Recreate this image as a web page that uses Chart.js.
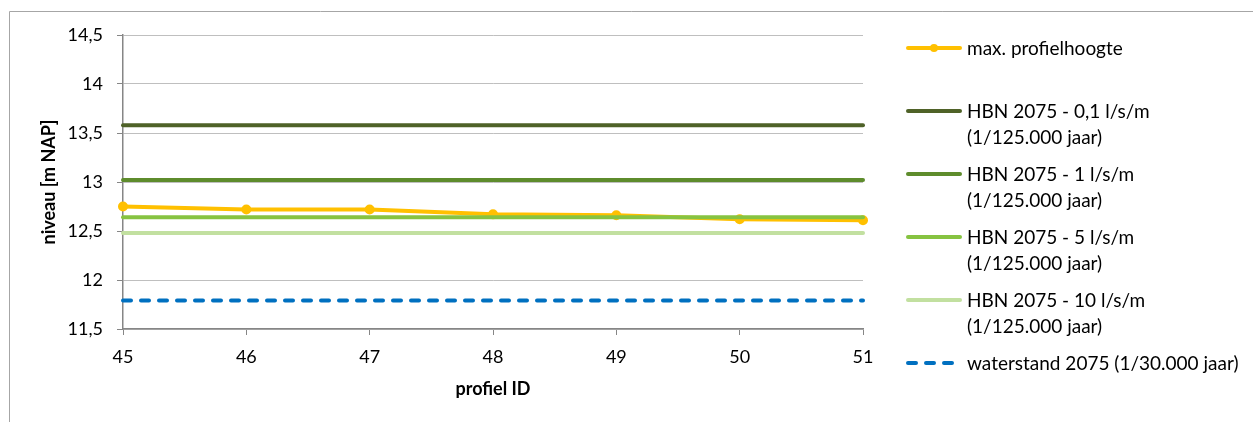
<!DOCTYPE html>
<html>
<head>
<meta charset="utf-8">
<script src="https://cdn.jsdelivr.net/npm/chart.js@4"></script>
<style>
  html, body { margin: 0; padding: 0; background: #fff; }
  canvas { display: block; }
</style>
</head>
<body>
<canvas id="c" width="1253" height="422"></canvas>
<script>
// Profile IDs along the x axis
const categories = ['45', '46', '47', '48', '49', '50', '51'];

// Maximum crest height per profile (m NAP)
const maxProfielhoogte = [12.75, 12.72, 12.72, 12.67, 12.66, 12.62, 12.61];

// Hydraulic load levels (HBN 2075) for several overtopping rates, and the 2075 water level
const hbn01 = [13.58, 13.58, 13.58, 13.58, 13.58, 13.58, 13.58];
const hbn1 = [13.02, 13.02, 13.02, 13.02, 13.02, 13.02, 13.02];
const hbn5 = [12.64, 12.64, 12.64, 12.64, 12.64, 12.64, 12.64];
const hbn10 = [12.48, 12.48, 12.48, 12.48, 12.48, 12.48, 12.48];
const waterstand = [11.79, 11.79, 11.79, 11.79, 11.79, 11.79, 11.79];

// Legend texts, one array of lines per series
const seriesLabels = [
  ['max. profielhoogte'],
  ['HBN 2075 - 0,1 l/s/m', '(1/125.000 jaar)'],
  ['HBN 2075 - 1 l/s/m', '(1/125.000 jaar)'],
  ['HBN 2075 - 5 l/s/m', '(1/125.000 jaar)'],
  ['HBN 2075 - 10 l/s/m', '(1/125.000 jaar)'],
  ['waterstand 2075 (1/30.000 jaar)']
];

// Y axis ticks
const yMin = 11.5, yMax = 14.5, yStep = 0.5;

const FONT = 'Lato';

// Outer frame of the chart object
const framePlugin = {
  id: 'frame',
  beforeDraw(chart) {
    const ctx = chart.ctx;
    ctx.save();
    ctx.fillStyle = '#fff';
    ctx.fillRect(0, 0, chart.width, chart.height);
    ctx.strokeStyle = '#a6a6a6';
    ctx.lineWidth = 1;
    ctx.beginPath();
    ctx.moveTo(9.5, chart.height + 5);
    ctx.lineTo(9.5, 11.5);
    ctx.lineTo(chart.width + 5, 11.5);
    ctx.stroke();
    ctx.restore();
  }
};

// Legend on the right, with multi-line entries
const sideLegend = {
  id: 'sideLegend',
  afterDraw(chart) {
    const ctx = chart.ctx;
    const x0 = 906, x1 = 962, tx = 967;
    const firstY = 48, pitch = 63, lineGap = 26;
    ctx.save();
    ctx.font = '19px ' + FONT;
    ctx.textBaseline = 'middle';
    ctx.textAlign = 'left';
    chart.data.datasets.forEach((ds, i) => {
      const y = firstY + pitch * i;
      ctx.strokeStyle = ds.borderColor;
      ctx.lineWidth = ds.borderWidth;
      ctx.lineCap = 'round';
      ctx.setLineDash(ds.borderDash || []);
      ctx.beginPath();
      ctx.moveTo(x0 + 2, y);
      ctx.lineTo(x1 - 2, y);
      ctx.stroke();
      ctx.setLineDash([]);
      if (ds.pointRadius > 0) {
        ctx.fillStyle = ds.pointBackgroundColor;
        ctx.beginPath();
        ctx.arc((x0 + x1) / 2, y, 4, 0, Math.PI * 2);
        ctx.fill();
      }
      ctx.fillStyle = '#000';
      seriesLabels[i].forEach((line, k) => {
        ctx.fillText(line, tx, y + 1 + k * lineGap);
      });
    });
    ctx.restore();
  }
};

new Chart(document.getElementById('c'), {
  type: 'line',
  data: {
    labels: categories,
    datasets: [
      {
        label: seriesLabels[0].join(' '),
        data: maxProfielhoogte,
        borderColor: '#FFC000',
        backgroundColor: '#FFC000',
        pointBackgroundColor: '#FFC000',
        pointBorderColor: '#FFC000',
        borderWidth: 4,
        pointRadius: 5,
        pointBorderWidth: 0,
        order: 10
      },
      {
        label: seriesLabels[1].join(' '),
        data: hbn01,
        borderColor: '#4F6228',
        borderWidth: 4,
        pointRadius: 0,
        order: 1
      },
      {
        label: seriesLabels[2].join(' '),
        data: hbn1,
        borderColor: '#5E8C2C',
        borderWidth: 4,
        pointRadius: 0,
        order: 1
      },
      {
        label: seriesLabels[3].join(' '),
        data: hbn5,
        borderColor: '#86C341',
        borderWidth: 4,
        pointRadius: 0,
        order: 1
      },
      {
        label: seriesLabels[4].join(' '),
        data: hbn10,
        borderColor: '#C2E0A0',
        borderWidth: 4,
        pointRadius: 0,
        order: 1
      },
      {
        label: seriesLabels[5].join(' '),
        data: waterstand,
        borderColor: '#0070C0',
        borderWidth: 4,
        borderDash: [8, 10],
        borderCapStyle: 'round',
        pointRadius: 0,
        order: 1
      }
    ]
  },
  options: {
    responsive: false,
    animation: false,
    events: [],
    layout: { padding: { top: 35, right: 390, bottom: 0, left: 0 } },
    plugins: { legend: { display: false }, tooltip: { enabled: false } },
    elements: { line: { tension: 0, borderJoinStyle: 'round', borderCapStyle: 'round' } },
    scales: {
      x: {
        type: 'category',
        offset: false,
        afterFit(scale) { scale.height = 93; },
        grid: { display: true, drawOnChartArea: false, drawTicks: true, tickLength: 6, tickColor: '#868686', lineWidth: 1 },
        border: { display: true, color: '#868686', width: 1.5 },
        ticks: { color: '#000', font: { family: FONT, size: 18 }, padding: 11, maxRotation: 0, autoSkip: false },
        title: {
          display: true,
          text: 'profiel ID',
          color: '#000',
          font: { family: FONT, size: 18, weight: 'bold' },
          padding: { top: 0, bottom: 22 }
        }
      },
      y: {
        min: yMin,
        max: yMax,
        afterFit(scale) { scale.width = 123; },
        afterBuildTicks(scale) {
          const t = [];
          for (let v = yMin; v <= yMax + 1e-9; v += yStep) t.push({ value: Math.round(v * 10) / 10 });
          scale.ticks = t;
        },
        grid: { color: '#bfbfbf', lineWidth: 1, drawTicks: true, tickLength: 6, tickColor: '#868686' },
        border: { display: true, color: '#868686', width: 1.5 },
        ticks: {
          color: '#000',
          font: { family: FONT, size: 18 },
          padding: 14,
          callback: (v) => String(v).replace('.', ',')
        },
        title: {
          display: true,
          text: 'niveau [m NAP]',
          color: '#000',
          font: { family: FONT, size: 18, weight: 'bold' },
          padding: { top: 38, bottom: 0 }
        }
      }
    }
  },
  plugins: [framePlugin, sideLegend]
});
</script>
</body>
</html>
